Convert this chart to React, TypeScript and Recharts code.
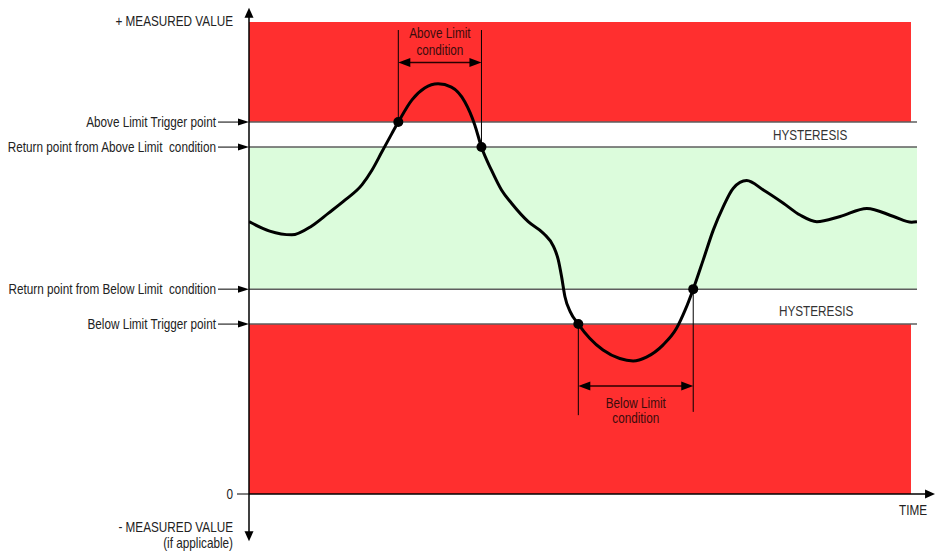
import React from "react";
import {
  ComposedChart,
  Line,
  XAxis,
  YAxis,
  ReferenceArea,
  ReferenceLine,
  ReferenceDot,
} from "recharts";

// Arial-Narrow look: Liberation Sans squeezed horizontally
const FONT = '"Liberation Sans", Arial, sans-serif';
const NARROW = 0.84;
const RED = "#ff2f2f";
const GREEN = "#dcfcdc";
const GRID = "#5e5e5e";
const TEXT = "#222";

// limit levels on the measured value axis (0 .. 100)
const TOP = 100;
const ABOVE_TRIGGER = 78.8;
const ABOVE_RETURN = 73.5;
const BELOW_RETURN = 43.4;
const BELOW_TRIGGER = 36;

const levelValues = [TOP, ABOVE_TRIGGER, ABOVE_RETURN, BELOW_RETURN, BELOW_TRIGGER, 0];
const levelLabels = [
  "+ MEASURED VALUE",
  "Above Limit Trigger point",
  "Return point from Above Limit  condition",
  "Return point from Below Limit  condition",
  "Below Limit Trigger point",
  "0",
];
const negativeLabel = ["- MEASURED VALUE", "(if applicable)"];

// measured signal over time
const time = [
  0, 3.1, 6.4, 9.4, 11.9, 14.4, 16.9, 18.4, 19.9, 21.4,
  22.35, 24.4, 26.3, 28.3, 30.3, 32.3, 33.8, 34.8, 36.3, 37.8,
  39.3, 41.8, 44.1, 45.6, 46.3, 46.8, 47.3, 48.1, 49.3, 51.0,
  53.0, 55.5, 57.5, 59.5, 62.0, 64.0, 65.3, 66.5, 68.0, 69.5,
  71.0, 72.5, 74.5, 77.0, 80.0, 82.5, 85.0, 88.5, 92.5, 96.5,
  99.2, 100,
];
const value = [
  57.7, 55.7, 54.9, 56.8, 59.5, 62.3, 65.5, 68.6, 72.5, 76.4,
  78.8, 83.5, 86.0, 86.9, 86.2, 83.1, 78.2, 73.5, 68.6, 64.4,
  61.6, 57.7, 55.2, 52.4, 49.6, 46.0, 41.8, 38.6, 36.0, 33.0,
  30.5, 28.7, 28.2, 29.0, 31.6, 35.1, 39.0, 43.4, 49.6, 55.9,
  60.9, 64.8, 66.4, 64.4, 61.6, 59.1, 57.7, 58.8, 60.5, 58.8,
  57.6, 57.7,
];

// trigger / return crossings
const markerTime = [22.35, 34.8, 49.3, 66.5];
const markerValue = [ABOVE_TRIGGER, ABOVE_RETURN, BELOW_TRIGGER, BELOW_RETURN];

const aboveLabel = ["Above Limit", "condition"];
const belowLabel = ["Below Limit", "condition"];
const hysteresisLabel = "HYSTERESIS";
const timeLabel = "TIME";

const data = time.map((t, i) => ({ t, v: value[i] }));

function head(x: number, y: number, dx: number, dy: number, len: number, half: number, fill = "#000") {
  const bx = x - dx * len;
  const by = y - dy * len;
  const px = -dy * half;
  const py = dx * half;
  return <polygon points={`${x},${y} ${bx + px},${by + py} ${bx - px},${by - py}`} fill={fill} />;
}

function NText({ x, y, anchor = "end", fill = TEXT, children }: any) {
  return (
    <text
      transform={`translate(${x},${y}) scale(${NARROW},1)`}
      dy={5}
      textAnchor={anchor}
      style={{ fontFamily: FONT, fontSize: 14, fill, whiteSpace: "pre" }}
    >
      {children}
    </text>
  );
}

function LevelTick(props: any) {
  const { x, y, payload } = props;
  const label = levelLabels[levelValues.indexOf(payload.value)];
  if (payload.value === TOP) {
    return <NText x={x - 16} y={y - 1}>{label}</NText>;
  }
  if (payload.value === 0) {
    return (
      <g>
        <line x1={x - 12} x2={x} y1={y} y2={y} stroke="#000" strokeWidth={1} />
        <NText x={x - 16} y={y}>{label}</NText>
        <NText x={x - 16} y={y + 33}>{negativeLabel[0]}</NText>
        <NText x={x - 16} y={y + 49}>{negativeLabel[1]}</NText>
      </g>
    );
  }
  return (
    <g>
      <line x1={x - 31} x2={x - 10} y1={y} y2={y} stroke="#000" strokeWidth={1} />
      {head(x, y, 1, 0, 11, 3.5)}
      <NText x={x - 33} y={y}>{label}</NText>
    </g>
  );
}

function yAxisShape(p: any) {
  return (
    <g>
      <line x1={p.x1} y1={p.y1 + 6} x2={p.x2} y2={p.y2 - 6} stroke="#000" strokeWidth={1.5} />
      {head(p.x1, p.y1, 0, -1, 10, 4.5)}
      {head(p.x2, p.y2, 0, 1, 10, 4.5)}
    </g>
  );
}

function xAxisShape(p: any) {
  return (
    <g>
      <line x1={p.x1} y1={p.y1} x2={p.x2 - 6} y2={p.y2} stroke="#000" strokeWidth={1.5} />
      {head(p.x2, p.y2, 1, 0, 10, 4.5)}
      <NText x={p.x2 - 22} y={p.y2 + 16} anchor="middle">{timeLabel}</NText>
    </g>
  );
}

function bracketShape(lines: string[], offsets: number[]) {
  return (p: any) => {
    const cx = (p.x1 + p.x2) / 2;
    return (
      <g>
        <line x1={p.x1 + 6} y1={p.y1} x2={p.x2 - 6} y2={p.y2} stroke="#2a0000" strokeWidth={1.5} />
        {head(p.x1, p.y1, -1, 0, 12, 4.5)}
        {head(p.x2, p.y2, 1, 0, 12, 4.5)}
        {lines.map((l, i) => (
          <NText key={i} x={cx} y={p.y1 + offsets[i]} anchor="middle" fill="#3a0c0c">
            {l}
          </NText>
        ))}
      </g>
    );
  };
}

function hysteresisShape(p: any) {
  return (
    <NText x={p.cx} y={p.cy} anchor="middle" fill="#333">
      {hysteresisLabel}
    </NText>
  );
}

export default function App() {
  return (
    <div style={{ position: "absolute", left: 0, top: 0, width: 935, height: 552, background: "#fff" }}>
      <ComposedChart width={935} height={552} data={data} margin={{ top: 22, right: 18, bottom: 58, left: 0 }}>
        <XAxis dataKey="t" type="number" domain={[0, 100]} hide allowDataOverflow />
        <YAxis
          type="number"
          domain={[0, 100]}
          width={249}
          ticks={levelValues}
          interval={0}
          axisLine={false}
          tickLine={false}
          tickSize={0}
          tickMargin={0}
          tick={<LevelTick />}
          allowDataOverflow
        />

        <ReferenceArea x1={0} x2={99.1} y1={ABOVE_TRIGGER} y2={TOP} fill={RED} fillOpacity={1} stroke="none" />
        <ReferenceArea x1={0} x2={100} y1={BELOW_RETURN} y2={ABOVE_RETURN} fill={GREEN} fillOpacity={1} stroke="none" />
        <ReferenceArea x1={0} x2={99.1} y1={0} y2={BELOW_TRIGGER} fill={RED} fillOpacity={1} stroke="none" />

        {[ABOVE_TRIGGER, ABOVE_RETURN, BELOW_RETURN, BELOW_TRIGGER].map((lv) => (
          <ReferenceLine key={lv} y={lv} stroke={GRID} strokeWidth={1.5} />
        ))}

        <ReferenceDot x={84} y={(ABOVE_TRIGGER + ABOVE_RETURN) / 2} shape={hysteresisShape} />
        <ReferenceDot x={84.9} y={38.8} shape={hysteresisShape} />

        {/* condition brackets */}
        <ReferenceLine segment={[{ x: markerTime[0], y: markerValue[0] }, { x: markerTime[0], y: 98.3 }]} stroke="#000" strokeWidth={1} ifOverflow="visible" />
        <ReferenceLine segment={[{ x: markerTime[1], y: markerValue[1] }, { x: markerTime[1], y: 98.3 }]} stroke="#000" strokeWidth={1} ifOverflow="visible" />
        <ReferenceLine
          segment={[{ x: markerTime[0], y: 91.4 }, { x: markerTime[1], y: 91.4 }]}
          ifOverflow="visible"
          shape={bracketShape(aboveLabel, [-30, -13])}
        />
        <ReferenceLine segment={[{ x: markerTime[2], y: markerValue[2] }, { x: markerTime[2], y: 16.7 }]} stroke="#000" strokeWidth={1} ifOverflow="visible" />
        <ReferenceLine segment={[{ x: markerTime[3], y: markerValue[3] }, { x: markerTime[3], y: 17.4 }]} stroke="#000" strokeWidth={1} ifOverflow="visible" />
        <ReferenceLine
          segment={[{ x: markerTime[2], y: 22.9 }, { x: markerTime[3], y: 22.9 }]}
          ifOverflow="visible"
          shape={bracketShape(belowLabel, [17, 32])}
        />

        <Line dataKey="v" type="monotone" stroke="#000" strokeWidth={3} dot={false} activeDot={false} isAnimationActive={false} />

        {markerTime.map((t, i) => (
          <ReferenceDot key={t} x={t} y={markerValue[i]} r={5} fill="#000" stroke="none" />
        ))}

        {/* axes with arrows */}
        <ReferenceLine segment={[{ x: 0, y: 0 }, { x: 102.7, y: 0 }]} ifOverflow="visible" shape={xAxisShape} />
        <ReferenceLine segment={[{ x: 0, y: 103 }, { x: 0, y: -10 }]} ifOverflow="visible" shape={yAxisShape} />
      </ComposedChart>
    </div>
  );
}
